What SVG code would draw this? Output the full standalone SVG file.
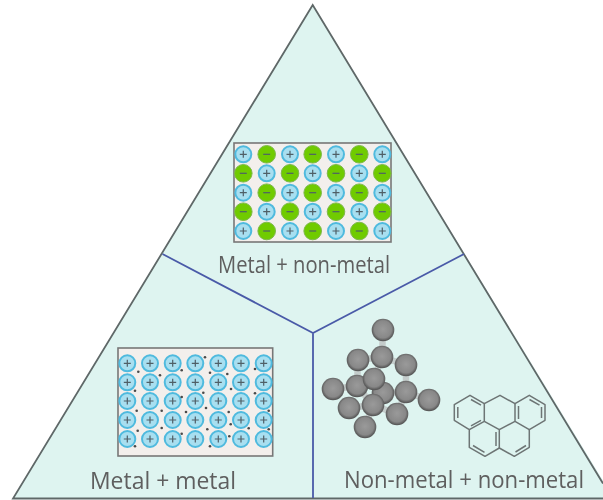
<svg xmlns="http://www.w3.org/2000/svg" width="603" height="500" viewBox="0 0 603 500">
<style>
.lbl{font-family:"Open Sans","Liberation Sans",sans-serif;font-weight:400;font-size:24px;fill:#5e5e5e}
.box{fill:#f3efec;stroke:#777;stroke-width:1.6}
.div{fill:none;stroke:#4a5aa8;stroke-width:1.8}
.sign{stroke:#4f5f66;stroke-width:1.2;fill:none}
.e{fill:#4a4a4a}
.bond{stroke:#c4cccb;stroke-width:6.500;fill:none}
.ch{fill:none;stroke:#6d7474;stroke-width:1.500;stroke-linejoin:round}
</style>
<defs>
<radialGradient id="ballG" cx="0.5" cy="0.47" r="0.53">
<stop offset="0" stop-color="#9a9a9a"/><stop offset="0.72" stop-color="#888"/><stop offset="1" stop-color="#4e4e4e"/>
</radialGradient>
<filter id="soft" x="-5%" y="-5%" width="110%" height="110%"><feGaussianBlur stdDeviation="0.55"/></filter>
<g id="p"><circle r="8" fill="#a8dff0" stroke="#4fbade" stroke-width="2"/><path class="sign" d="M-3.500 0H3.500M0-3.500V3.500"/></g>
<g id="n"><circle r="8.800" fill="#6fcb04" stroke="#7fb84a" stroke-width="1"/><path class="sign" d="M-3.500 0H3.500"/></g>
<circle id="b" r="11.300" fill="url(#ballG)"/>
</defs>
<rect width="603" height="500" fill="#fff"/>
<g filter="url(#soft)">
<path id="triangle" d="M312.700 5L13 498.500H603V480.500Z" fill="#def4f0"/>
<path d="M603 483.500L312.700 5L13 498.500H603" fill="none" stroke="#5f6868" stroke-width="1.800"/>
<g id="connectors">
<path class="div" d="M162.500 254L313 333L464 254M313 333V498"/>
</g>
<g id="node-metal-nonmetal">
<rect class="box" x="234" y="143" width="157" height="99"/>
<use href="#p" x="243.300" y="154.300"/><use href="#n" x="266.700" y="154.300"/><use href="#p" x="290" y="154.300"/><use href="#n" x="312.700" y="154.300"/><use href="#p" x="336" y="154.300"/><use href="#n" x="359.300" y="154.300"/><use href="#p" x="382.300" y="154.300"/>
<use href="#n" x="243.300" y="173.300"/><use href="#p" x="266.700" y="173.300"/><use href="#n" x="290" y="173.300"/><use href="#p" x="312.700" y="173.300"/><use href="#n" x="336" y="173.300"/><use href="#p" x="359.300" y="173.300"/><use href="#n" x="382.300" y="173.300"/>
<use href="#p" x="243.300" y="192.700"/><use href="#n" x="266.700" y="192.700"/><use href="#p" x="290" y="192.700"/><use href="#n" x="312.700" y="192.700"/><use href="#p" x="336" y="192.700"/><use href="#n" x="359.300" y="192.700"/><use href="#p" x="382.300" y="192.700"/>
<use href="#n" x="243.300" y="211.700"/><use href="#p" x="266.700" y="211.700"/><use href="#n" x="290" y="211.700"/><use href="#p" x="312.700" y="211.700"/><use href="#n" x="336" y="211.700"/><use href="#p" x="359.300" y="211.700"/><use href="#n" x="382.300" y="211.700"/>
<use href="#p" x="243.300" y="231"/><use href="#n" x="266.700" y="231"/><use href="#p" x="290" y="231"/><use href="#n" x="312.700" y="231"/><use href="#p" x="336" y="231"/><use href="#n" x="359.300" y="231"/><use href="#p" x="382.300" y="231"/>
<text class="lbl" x="218" y="273" textLength="172" lengthAdjust="spacingAndGlyphs">Metal + non-metal</text>
</g>
<g id="node-metal-metal">
<rect class="box" x="118" y="348" width="154.700" height="108"/>
<use href="#p" x="127.300" y="363.300"/><use href="#p" x="150" y="363.300"/><use href="#p" x="172.700" y="363.300"/><use href="#p" x="195.300" y="363.300"/><use href="#p" x="218.300" y="363.300"/><use href="#p" x="241" y="363.300"/><use href="#p" x="263.700" y="363.300"/>
<use href="#p" x="127.300" y="382.300"/><use href="#p" x="150" y="382.300"/><use href="#p" x="172.700" y="382.300"/><use href="#p" x="195.300" y="382.300"/><use href="#p" x="218.300" y="382.300"/><use href="#p" x="241" y="382.300"/><use href="#p" x="263.700" y="382.300"/>
<use href="#p" x="127.300" y="401"/><use href="#p" x="150" y="401"/><use href="#p" x="172.700" y="401"/><use href="#p" x="195.300" y="401"/><use href="#p" x="218.300" y="401"/><use href="#p" x="241" y="401"/><use href="#p" x="263.700" y="401"/>
<use href="#p" x="127.300" y="420"/><use href="#p" x="150" y="420"/><use href="#p" x="172.700" y="420"/><use href="#p" x="195.300" y="420"/><use href="#p" x="218.300" y="420"/><use href="#p" x="241" y="420"/><use href="#p" x="263.700" y="420"/>
<use href="#p" x="127.300" y="439"/><use href="#p" x="150" y="439"/><use href="#p" x="172.700" y="439"/><use href="#p" x="195.300" y="439"/><use href="#p" x="218.300" y="439"/><use href="#p" x="241" y="439"/><use href="#p" x="263.700" y="439"/>
<g class="e">
<circle cx="205" cy="357.300" r="1.300"/><circle cx="138.300" cy="371.700" r="1.300"/><circle cx="160" cy="375.300" r="1.300"/><circle cx="181.700" cy="370.300" r="1.300"/><circle cx="210" cy="372.700" r="1.300"/><circle cx="227.300" cy="374" r="1.300"/><circle cx="255" cy="369" r="1.300"/>
<circle cx="135" cy="390.700" r="1.300"/><circle cx="203.300" cy="392.700" r="1.300"/><circle cx="231" cy="389" r="1.300"/><circle cx="255" cy="393.300" r="1.300"/><circle cx="181.700" cy="397" r="1.300"/><circle cx="206" cy="408" r="1.300"/><circle cx="136.700" cy="410.700" r="1.300"/>
<circle cx="161.700" cy="410.700" r="1.300"/><circle cx="186" cy="412" r="1.300"/><circle cx="228.700" cy="412" r="1.300"/><circle cx="268.700" cy="410.700" r="1.300"/><circle cx="230.700" cy="424.300" r="1.300"/><circle cx="161.700" cy="428" r="1.300"/><circle cx="137.700" cy="430.700" r="1.300"/>
<circle cx="207.300" cy="429.300" r="1.300"/><circle cx="248.700" cy="428.300" r="1.300"/><circle cx="268.700" cy="429.300" r="1.300"/><circle cx="181.700" cy="433.700" r="1.300"/><circle cx="229.300" cy="436.300" r="1.300"/><circle cx="135" cy="446.300" r="1.300"/><circle cx="210" cy="446.300" r="1.300"/>
</g>
<text class="lbl" x="90" y="489" textLength="146" lengthAdjust="spacingAndGlyphs">Metal + metal</text>
</g>
<g id="node-nonmetal-nonmetal">
<g class="bond"><path d="M383 330L382 357M382 357L358 360M382 357L406 365M382 357L374 379M406 365L406 392M358 360L357 386M333 389L357 386M357 386L373 405M383 393L406 392M406 392L429 400M373 405L349 408M373 405L397 414M373 405L365 427M406 392L397 414"/></g>
<use href="#b" x="383" y="330"/><use href="#b" x="382" y="357"/><use href="#b" x="358" y="360"/><use href="#b" x="406" y="365"/><use href="#b" x="333" y="389"/><use href="#b" x="357" y="386"/><use href="#b" x="383" y="393"/><use href="#b" x="406" y="392"/><use href="#b" x="429" y="400"/><use href="#b" x="374" y="379"/><use href="#b" x="349" y="408"/><use href="#b" x="373" y="405"/><use href="#b" x="397" y="414"/><use href="#b" x="365" y="427"/>
<path class="ch" d="M454.300 404.700L470 395.300L484.300 403.700L500 395.300L515 403.700L529.300 395.300L545 404.700V420.300L529.300 429.700V447.300L514.300 456.300L499.300 448L485 456.300L469.300 447.300V429.700L454.300 420.300Z"/>
<path class="ch" d="M484.300 403.700V421.300M469.300 429.700L484.300 421.300L499.300 429.700L515 421.300V403.700M515 421.300L529.300 429.700M499.300 429.700V448"/>
<path class="ch" d="M471 399.500L481 405.200M457.800 407V418M471 425.800L481 420.300M529.500 399.500L539.500 405.200M541.500 407V418M518.500 406V419M473 445.500L484.500 452.300M496 432V446M515.500 452L526 445.500"/>
<text class="lbl" x="344" y="488" textLength="240" lengthAdjust="spacingAndGlyphs">Non-metal + non-metal</text>
</g>
</g>
</svg>
